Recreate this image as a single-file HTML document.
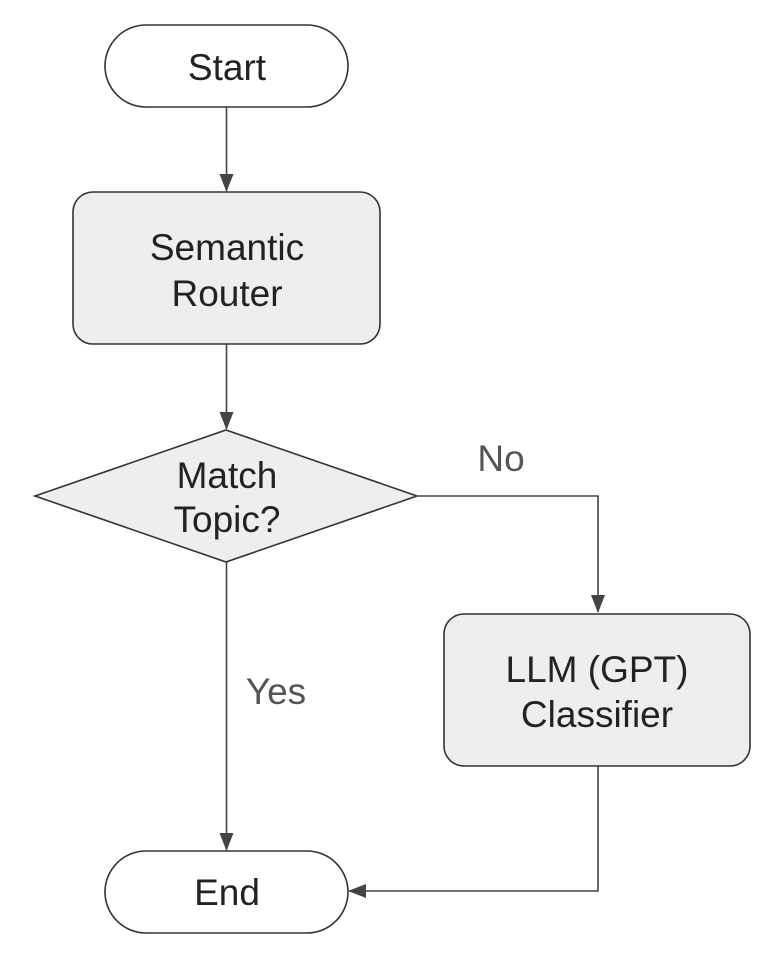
<!DOCTYPE html>
<html><head><style>html,body{margin:0;padding:0;background:#fff}</style></head><body>
<svg width="775" height="959" viewBox="0 0 775 959" xmlns="http://www.w3.org/2000/svg">
<defs><marker id="a" markerWidth="18" markerHeight="16" refX="17" refY="7" orient="auto" markerUnits="userSpaceOnUse"><path d="M0,0 L18,7 L0,14 Z" fill="#444"/></marker></defs>
<g stroke="#333" stroke-width="1.6" fill="none">
<rect x="105" y="25" width="243" height="82" rx="41" fill="#fff"/>
<rect x="73" y="192" width="307" height="152" rx="20" fill="#eee"/>
<polygon points="226,430 417,496 226,562 35,496" fill="#eee"/>
<rect x="444" y="614" width="306" height="152" rx="20" fill="#eee"/>
<rect x="105" y="851" width="243" height="82" rx="41" fill="#fff"/>
</g>
<g stroke="#444" stroke-width="1.6" fill="none">
<line x1="226.5" y1="107" x2="226.5" y2="191" marker-end="url(#a)"/>
<line x1="226.5" y1="344" x2="226.5" y2="429" marker-end="url(#a)"/>
<line x1="226.5" y1="562" x2="226.5" y2="850" marker-end="url(#a)"/>
<polyline points="417,496 598,496 598,612" marker-end="url(#a)"/>
<polyline points="598,766 598,891 349,891" marker-end="url(#a)"/>
</g>
<g font-family="Liberation Sans, sans-serif" font-size="37" fill="#222" text-anchor="middle">
<text x="227" y="80">Start</text>
<text x="227" y="260">Semantic</text>
<text x="227" y="306">Router</text>
<text x="227" y="488">Match</text>
<text x="227" y="532">Topic?</text>
<text x="597" y="682">LLM (GPT)</text>
<text x="597" y="727">Classifier</text>
<text x="227" y="905">End</text>
<text x="501" y="471" fill="#555">No</text>
<text x="276" y="704" fill="#555">Yes</text>
</g>
</svg>
</body></html>
